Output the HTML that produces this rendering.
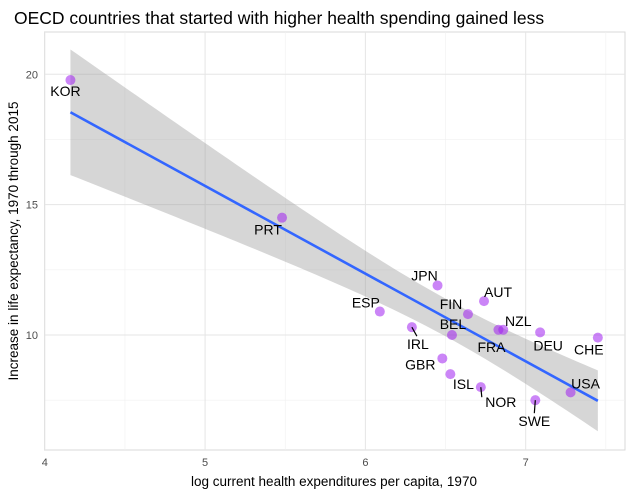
<!DOCTYPE html>
<html><head><meta charset="utf-8"><style>
body{margin:0;background:#fff;}
svg{display:block;font-family:"Liberation Sans",sans-serif;}
</style></head><body>
<svg id="chart" width="632" height="494">
<text x="14" y="24" font-size="17.5" fill="#000">OECD countries that started with higher health spending gained less</text>
<rect x="44.5" y="32" width="580.5" height="418" fill="#fff" stroke="#d9d9d9"/>
<g id="grid"></g><g id="band"></g><g id="line"></g><g id="pts"></g><g id="labs"></g><g id="ticks"></g>
<text x="334" y="486" font-size="13.5" text-anchor="middle" fill="#000">log current health expenditures per capita, 1970</text>
<text transform="translate(18,241) rotate(-90)" font-size="13.5" text-anchor="middle" fill="#000">Increase in life expectancy, 1970 through 2015</text>
</svg>
<script>
const countries=["KOR","PRT","ESP","IRL","JPN","FIN","BEL","AUT","FRA","NZL","DEU","CHE","GBR","ISL","NOR","SWE","USA"];
const spend=[4.16,5.48,6.09,6.29,6.45,6.64,6.54,6.74,6.83,6.86,7.09,7.45,6.48,6.53,6.72,7.06,7.28];
const gain=[19.78,14.5,10.9,10.3,11.9,10.8,10.0,11.3,10.2,10.2,10.1,9.9,9.1,8.5,8.0,7.5,7.8];
const xTicks=[4,5,6,7];
const yTicks=[10,15,20];
// label offsets [dx,dy] and whether a leader segment is drawn
const labOff={KOR:[-5,16],PRT:[-14,17],ESP:[-14,-4],IRL:[6,22],JPN:[-13,-5],FIN:[-17,-5],BEL:[1,-6],AUT:[14,-4],FRA:[-7,22],NZL:[15,-4],DEU:[8,18],CHE:[-9,17],GBR:[-22,11],ISL:[13,15],NOR:[20,20],SWE:[-1,26],USA:[15,-4]};
const leaders={IRL:[5,9],NOR:[1,10],SWE:[-1,13]};
const NS="http://www.w3.org/2000/svg";
const X=v=>44.8+(v-4)*160.3, Y=v=>74.3-(v-20)*26.07;
function mk(t,a,p){const e=document.createElementNS(NS,t);for(const k in a)e.setAttribute(k,a[k]);document.getElementById(p).appendChild(e);return e;}
// grid
[4.5,5.5,6.5,7.5].forEach(v=>{if(X(v)<625){const e=mk('line',{x1:X(v),x2:X(v),y1:32,y2:450,stroke:'#f0f0f0','stroke-width':0.6},'grid');

}});
[7.5,12.5,17.5].forEach(v=>{const e=mk('line',{x1:44.5,x2:625,y1:Y(v),y2:Y(v),stroke:'#f0f0f0','stroke-width':0.6},'grid');

});
xTicks.forEach(v=>{const e=mk('line',{x1:X(v),x2:X(v),y1:32,y2:450,stroke:'#e5e5e5','stroke-width':1},'grid');


const t=mk('text',{x:X(v),y:466,'font-size':11,'text-anchor':'middle',fill:'#4d4d4d'},'ticks');t.textContent=v;

});
yTicks.forEach(v=>{const e=mk('line',{x1:44.5,x2:625,y1:Y(v),y2:Y(v),stroke:'#e5e5e5','stroke-width':1},'grid');


const t=mk('text',{x:38,y:Y(v)+4,'font-size':11,'text-anchor':'end',fill:'#4d4d4d'},'ticks');t.textContent=v;

});
// regression
const n=spend.length,mx=spend.reduce((a,b)=>a+b)/n,my=gain.reduce((a,b)=>a+b)/n;
let sxx=0,sxy=0;for(let i=0;i<n;i++){sxx+=(spend[i]-mx)**2;sxy+=(spend[i]-mx)*(gain[i]-my);}
const b=sxy/sxx,a=my-b*mx;let sse=0;for(let i=0;i<n;i++)sse+=(gain[i]-a-b*spend[i])**2;
const s=Math.sqrt(sse/(n-2)),tq=2.131;
const x0=Math.min(...spend),x1=Math.max(...spend);
let up=[],lo=[];for(let k=0;k<=80;k++){const x=x0+(x1-x0)*k/80,f=a+b*x,se=s*Math.sqrt(1/n+(x-mx)**2/sxx)*tq;up.push(X(x)+','+Y(f+se));lo.unshift(X(x)+','+Y(f-se));}
const band=mk('polygon',{points:up.concat(lo).join(' '),fill:'#999',opacity:0.4},'band');


const ln=mk('line',{x1:X(x0),y1:Y(a+b*x0),x2:X(x1),y2:Y(a+b*x1),stroke:'#3366ff','stroke-width':2.6},'line');


countries.forEach((c,i)=>{const px=X(spend[i]),py=Y(gain[i]);
const p=mk('circle',{cx:px,cy:py,r:5,fill:'#a020f0','fill-opacity':0.55},'pts');


if(leaders[c]){const L=leaders[c];const l=mk('line',{x1:px,y1:py,x2:px+L[0],y2:py+L[1],stroke:'#000','stroke-width':1.2},'labs');

}
const o=labOff[c];const t=mk('text',{x:px+o[0],y:py+o[1],'font-size':14,'text-anchor':'middle',fill:'#000'},'labs');t.textContent=c;

});
</script>
</body></html>
